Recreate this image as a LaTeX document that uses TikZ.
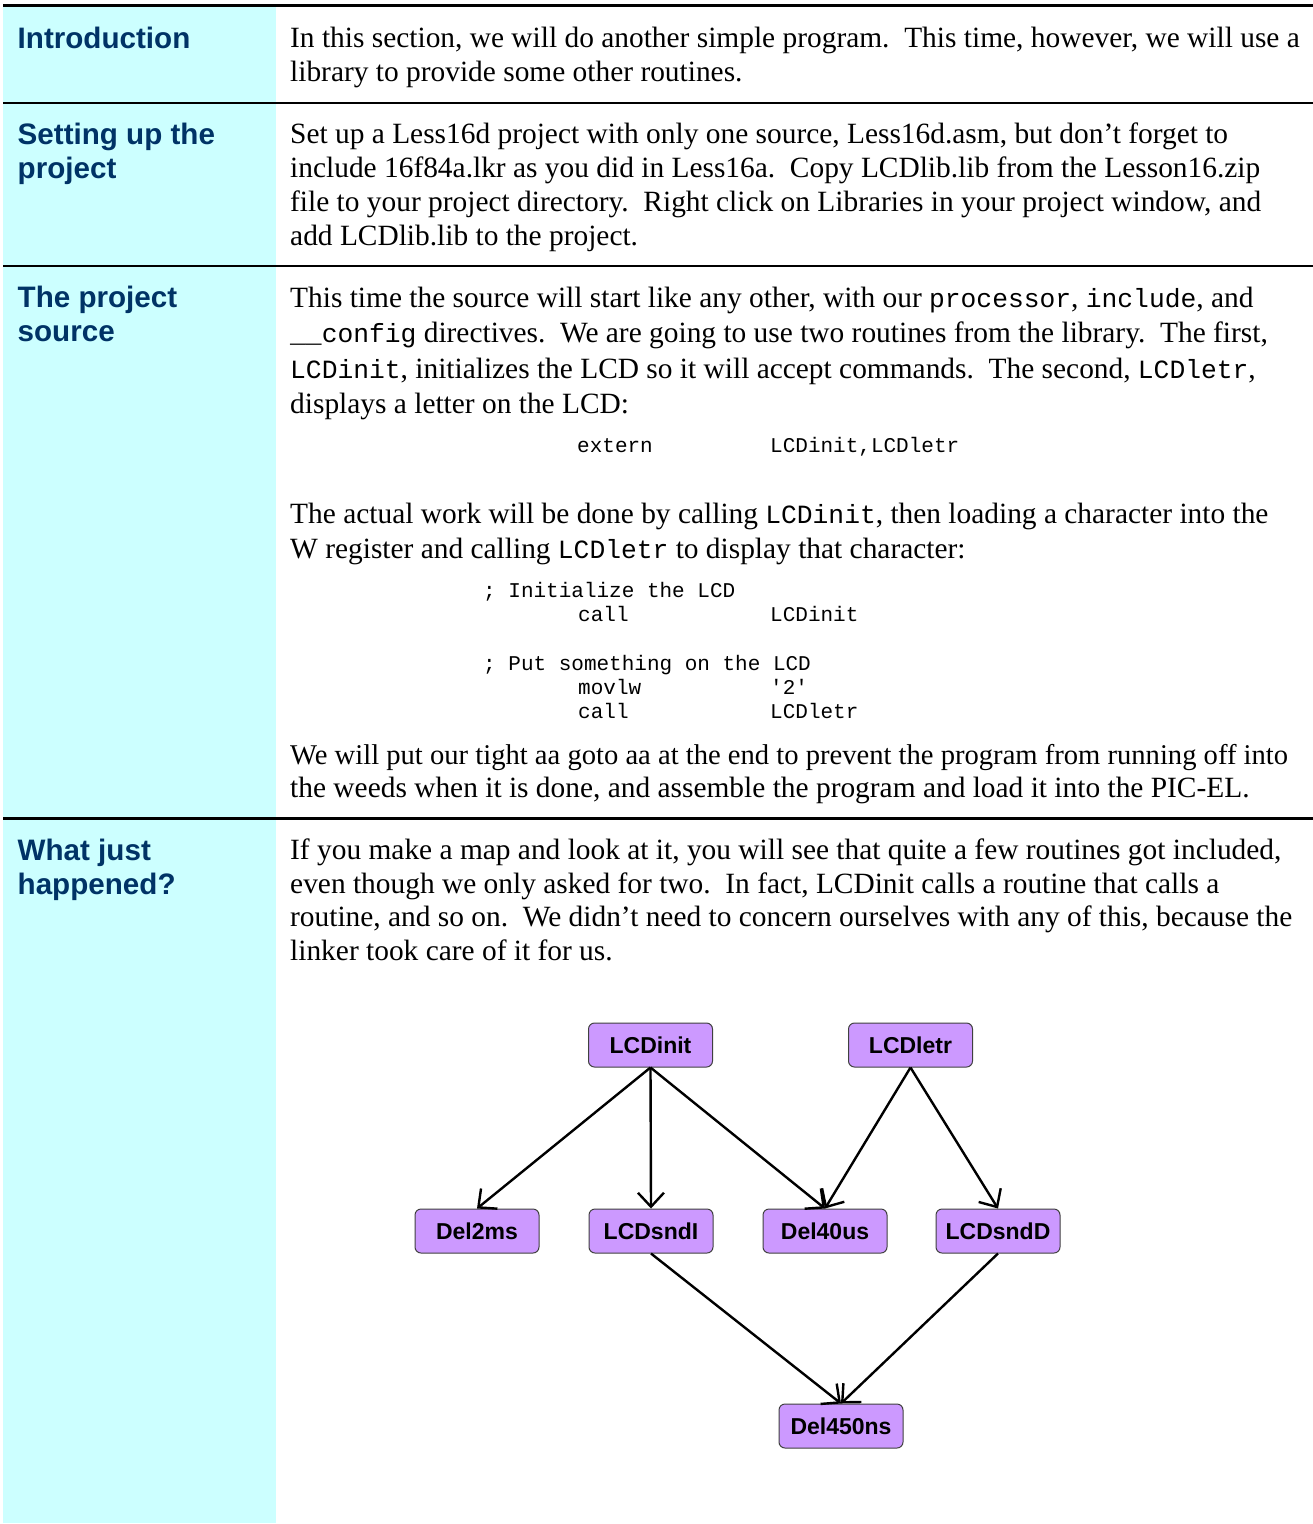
\documentclass[tikz,border=0pt]{standalone}
\usepackage{fontspec}
\setmainfont{Liberation Serif}
\newfontfamily\hfont{Liberation Sans}
\newfontfamily\cfont{Liberation Mono}
\usetikzlibrary{arrows.meta}
\definecolor{navy}{RGB}{0,51,102}
\definecolor{cyanbg}{RGB}{204,255,255}
\definecolor{boxviolet}{RGB}{204,153,255}
\newcommand\cd[1]{{\cfont\fontsize{26.3}{34}\selectfont #1}}
\begin{document}
\begin{tikzpicture}[x=1pt,y=-1pt,
  body/.style={anchor=base west, inner sep=0pt, font=\fontsize{29.4}{34}\selectfont},
  head/.style={anchor=base west, inner sep=0pt, text=navy, font=\hfont\bfseries\fontsize{29.6}{34}\selectfont},
  codel/.style={anchor=base west, inner sep=0pt, font=\cfont\fontsize{21}{24}\selectfont},
  rbox/.style={draw=black!75, fill=boxviolet, rounded corners=6pt, line width=1pt,
    minimum width=124pt, minimum height=44pt, inner sep=0pt,
    font=\hfont\bfseries\fontsize{23}{26}\selectfont},
  link/.style={-{Straight Barb[length=14pt,width=26pt]}, line width=2.4pt}]
\useasboundingbox (0,0) rectangle (1313,1524);
\fill[white] (0,0) rectangle (1313,1524);
% left column
\fill[cyanbg] (3,7) rectangle (276,1523);
% rules
\fill[black] (3,3.8) rectangle (1313,7.3);
\fill[black] (3,101.6) rectangle (1313,103.9);
\fill[black] (3,264.9) rectangle (1313,267.2);
\fill[black] (3,817.4) rectangle (1313,819.7);
% headings
\node[head] (h1) at (17.5,48) {Introduction};
\node[head] (h2a) at (17.5,144) {Setting up the};
\node[head] (h2b) at (17.5,178) {project};
\node[head] (h3a) at (17.5,307) {The project};
\node[head] (h3b) at (17.5,341) {source};
\node[head] (h4a) at (17.5,860) {What just};
\node[head] (h4b) at (17.5,894) {happened?};
% intro
\node[body] (t1) at (290,47) {In this section, we will do another simple program.\ \ This time, however, we will use a};
\node[body] (t2) at (290,81) {library to provide some other routines.};
% setting up
\node[body] (s1) at (290,143) {Set up a Less16d project with only one source, Less16d.asm, but don’t forget to};
\node[body] (s2) at (290,177) {include 16f84a.lkr as you did in Less16a.\ \ Copy LCDlib.lib from the Lesson16.zip};
\node[body] (s3) at (290,211) {file to your project directory.\ \ Right click on Libraries in your project window, and};
\node[body] (s4) at (290,245) {add LCDlib.lib to the project.};
% project source
\node[body] (p1) at (290,307) {This time the source will start like any other, with our \cd{processor}, \cd{include}, and};
\node[body] (p2) at (290,342) {\cd{\_\_config} directives.\ \ We are going to use two routines from the library.\ \ The first,};
\node[body] (p3) at (290,378) {\cd{LCDinit}, initializes the LCD so it will accept commands.\ \ The second, \cd{LCDletr},};
\node[body] (p4) at (290,413) {displays a letter on the LCD:};
\node[codel] (c0a) at (577,452) {extern};
\node[codel] (c0b) at (770,452) {LCDinit,LCDletr};
\node[body] (p5) at (290,523) {The actual work will be done by calling \cd{LCDinit}, then loading a character into the};
\node[body] (p6) at (290,558) {W register and calling \cd{LCDletr} to display that character:};
\node[codel] (c1) at (483,597) {; Initialize the LCD};
\node[codel] (c2a) at (578,621) {call};
\node[codel] (c2b) at (770,621) {LCDinit};
\node[codel] (c3) at (483,670) {; Put something on the LCD};
\node[codel] (c4a) at (578,694) {movlw};
\node[codel] (c4b) at (770,694) {\textquotesingle 2\textquotesingle};
\node[codel] (c5a) at (578,718) {call};
\node[codel] (c5b) at (770,718) {LCDletr};
\node[body, font=\fontsize{28.6}{34}\selectfont] (p7) at (290,764) {We will put our tight aa goto aa at the end to prevent the program from running off into};
\node[body] (p8) at (290,797) {the weeds when it is done, and assemble the program and load it into the PIC-EL.};
% what just happened
\node[body] (w1) at (290,859) {If you make a map and look at it, you will see that quite a few routines got included,};
\node[body] (w2) at (290,893) {even though we only asked for two.\ \ In fact, LCDinit calls a routine that calls a};
\node[body] (w3) at (290,926) {routine, and so on.\ \ We didn’t need to concern ourselves with any of this, because the};
\node[body] (w4) at (290,960) {linker took care of it for us.};
% call graph
\node[rbox] (init) at (650.5,1045) {LCDinit};
\node[rbox] (letr) at (910.5,1045) {LCDletr};
\node[rbox] (d2ms) at (477,1231) {Del2ms};
\node[rbox] (sndi) at (651,1231) {LCDsndI};
\node[rbox] (d40) at (825,1231) {Del40us};
\node[rbox] (sndd) at (998,1231) {LCDsndD};
\node[rbox] (d450) at (841,1426) {Del450ns};
\draw[link] (init.south) -- (d2ms.north);
\draw[link] (init.south) -- (sndi.north);
\draw[link] (init.south) -- (d40.north);
\draw[link] (letr.south) -- (d40.north);
\draw[link] (letr.south) -- (sndd.north);
\draw[link] (sndi.south) -- (d450.north);
\draw[link] (sndd.south) -- (d450.north);
\end{tikzpicture}
\end{document}
